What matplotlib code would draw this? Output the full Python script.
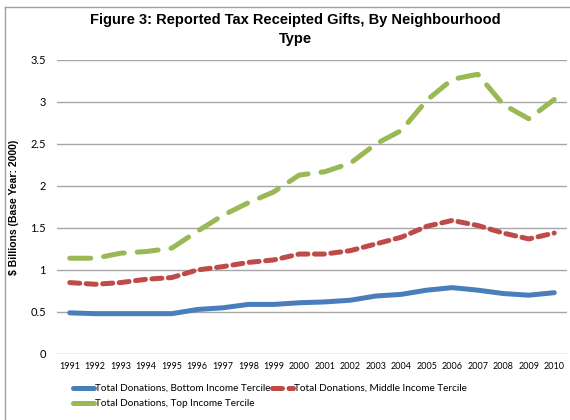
import matplotlib
matplotlib.use("Agg")
import matplotlib.pyplot as plt
from matplotlib.lines import Line2D

years = [str(y) for y in range(1991, 2011)]
bottom = [0.49, 0.48, 0.48, 0.48, 0.48, 0.53, 0.55, 0.59, 0.59, 0.61,
          0.62, 0.64, 0.69, 0.71, 0.76, 0.79, 0.76, 0.72, 0.70, 0.73]
middle = [0.85, 0.83, 0.85, 0.89, 0.91, 1.00, 1.04, 1.09, 1.12, 1.19,
          1.19, 1.23, 1.31, 1.39, 1.52, 1.59, 1.53, 1.44, 1.37, 1.44]
top = [1.14, 1.14, 1.20, 1.22, 1.26, 1.46, 1.65, 1.80, 1.93, 2.13,
       2.17, 2.27, 2.50, 2.66, 3.02, 3.27, 3.33, 2.97, 2.80, 3.03]
labels = ["Total Donations, Bottom Income Tercile",
          "Total Donations, Middle Income Tercile",
          "Total Donations, Top Income Tercile"]
yticks = [0, 0.5, 1, 1.5, 2, 2.5, 3, 3.5]
ytick_labels = ["0", "0.5", "1", "1.5", "2", "2.5", "3", "3.5"]

W, H = 570, 420
fig = plt.figure(figsize=(W / 100, H / 100), dpi=100)
ax = fig.add_axes([57 / W, 1 - 354 / H, 510 / W, 294 / H])

x = list(range(len(years)))
lw = 3.6
l1, = ax.plot(x, bottom, color="#4A7EBB", lw=lw, solid_capstyle="round", label=labels[0])
l2, = ax.plot(x, middle, color="#BE4B48", lw=lw, dashes=(2.0, 1.3), dash_capstyle="round", label=labels[1])
l3, = ax.plot(x, top, color="#98B954", lw=lw, dashes=(4.2, 2.6), dash_capstyle="round", label=labels[2])

ax.set_xlim(-0.5, len(years) - 0.5)
ax.set_ylim(0, 3.5)
ax.set_yticks(yticks)
ax.set_yticklabels(ytick_labels, fontsize=8, family="Lato")
ax.set_xticks(x)
ax.set_xticklabels(years, fontsize=6.5, family="Lato")
ax.tick_params(length=0, pad=8)
ax.tick_params(axis="x", pad=6)
ax.yaxis.grid(True, color="#A6A6A6", lw=1)
ax.set_axisbelow(True)
for s in ax.spines.values():
    s.set_visible(False)

ax.set_ylabel("$ Billions (Base Year: 2000)", fontsize=7.5, fontweight="bold",
              family="Liberation Sans", labelpad=8)

fig.text(0.5 + 10 / W, 1 - 20 / H, "Figure 3: Reported Tax Receipted Gifts, By Neighbourhood",
         ha="center", va="center", fontsize=10.5, fontweight="bold", family="Liberation Sans")
fig.text(0.5 + 10 / W, 1 - 39 / H, "Type",
         ha="center", va="center", fontsize=10.5, fontweight="bold", family="Liberation Sans")

leg = fig.legend(handles=[l1, l3, l2], loc="upper left",
                 bbox_to_anchor=(68 / W, 1 - 379 / H), ncol=2, frameon=False,
                 prop={"family": "Lato", "size": 7.2}, handlelength=2.1,
                 handletextpad=0.1, columnspacing=0.1, labelspacing=0.65,
                 borderpad=0)

# chart border (left and top edges)
fig.add_artist(Line2D([5 / W, 5 / W], [0, 1 - 7 / H], color="#A0A0A0", lw=1, transform=fig.transFigure))
fig.add_artist(Line2D([5 / W, 1], [1 - 7 / H, 1 - 7 / H], color="#A0A0A0", lw=1, transform=fig.transFigure))

fig.savefig("out.png", dpi=100)
